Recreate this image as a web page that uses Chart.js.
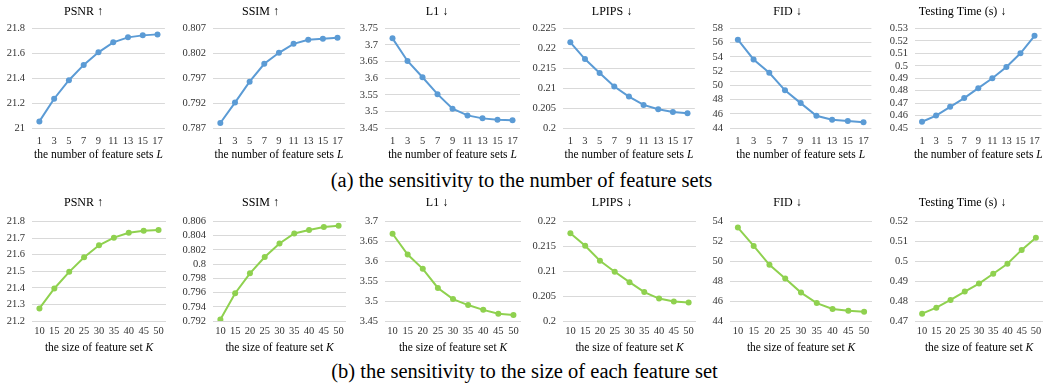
<!DOCTYPE html>
<html>
<head>
<meta charset="utf-8">
<script src="https://cdn.jsdelivr.net/npm/chart.js@4.4.1/dist/chart.umd.min.js"></script>
<style>
  body { margin: 0; background: #fff; width: 1047px; height: 383px; position: relative; overflow: hidden; font-family: "Liberation Serif", "DejaVu Serif", serif; }
  .box { position: absolute; }
  .cap { position: absolute; left: 0; width: 1047px; text-align: center; font-size: 20.5px; line-height: 24px; color: #000; }
</style>
</head>
<body>
<div class="cap" style="left:-2px; top:168px;">(a) the sensitivity to the number of feature sets</div>
<div class="cap" style="left:1px; top:359px;">(b) the sensitivity to the size of each feature set</div>
<script>
// x categories
var lValues = ['1', '3', '5', '7', '9', '11', '13', '15', '17'];
var kValues = ['10', '15', '20', '25', '30', '35', '40', '45', '50'];

// (a) number of feature sets L
var psnrL = [21.053, 21.235, 21.384, 21.507, 21.608, 21.688, 21.728, 21.744, 21.752];
var ssimL = [0.7880, 0.7921, 0.7963, 0.7999, 0.8021, 0.8039, 0.8047, 0.8049, 0.8051];
var l1L = [3.720, 3.652, 3.603, 3.552, 3.508, 3.488, 3.479, 3.475, 3.473];
var lpipsL = [0.2215, 0.2173, 0.2138, 0.2104, 0.2079, 0.2058, 0.2047, 0.2040, 0.2037];
var fidL = [56.42, 53.63, 51.77, 49.3, 47.5, 45.72, 45.16, 44.98, 44.8];
var timeL = [0.455, 0.460, 0.467, 0.474, 0.482, 0.490, 0.499, 0.510, 0.524];

// (b) size of feature set K
var psnrK = [21.276, 21.396, 21.496, 21.584, 21.656, 21.702, 21.732, 21.744, 21.748];
var ssimK = [0.7922, 0.7959, 0.7987, 0.8010, 0.8029, 0.8043, 0.8048, 0.8052, 0.8054];
var l1K = [3.669, 3.617, 3.581, 3.533, 3.505, 3.490, 3.478, 3.468, 3.465];
var lpipsK = [0.2176, 0.2151, 0.2121, 0.2099, 0.2078, 0.2058, 0.2045, 0.2039, 0.2037];
var fidK = [53.38, 51.54, 49.64, 48.26, 46.85, 45.8, 45.21, 45.02, 44.92];
var timeK = [0.4737, 0.4767, 0.4806, 0.4848, 0.4888, 0.4937, 0.4987, 0.5057, 0.5118];

var titles = ['PSNR \u2191', 'SSIM \u2191', 'L1 \u2193', 'LPIPS \u2193', 'FID \u2193', 'Testing Time (s) \u2193'];

// y ranges [min, max, step]
var rangesL = [[21, 21.8, 0.2], [0.787, 0.807, 0.005], [3.45, 3.75, 0.05], [0.2, 0.225, 0.005], [44, 58, 2], [0.45, 0.53, 0.01]];
var rangesK = [[21.2, 21.8, 0.1], [0.792, 0.806, 0.002], [3.45, 3.7, 0.05], [0.2, 0.22, 0.005], [44, 54, 2], [0.47, 0.52, 0.01]];

// layout of the six columns: canvas left, width, y axis width, right padding
var cols = [
  { left: 0, width: 170, yw: 32, pr: 3 },
  { left: 174, width: 176, yw: 39, pr: 3 },
  { left: 352, width: 173, yw: 33, pr: 3 },
  { left: 527, width: 173, yw: 36, pr: 3 },
  { left: 702, width: 174, yw: 28, pr: 3 },
  { left: 878, width: 169, yw: 37, pr: 0 }
];

var rows = [
  { top: 0, height: 168, titlePad: { top: 5, bottom: 9 }, plotTop: 28, plotBottom: 128, tickPad: 7,
    labels: lValues, series: [psnrL, ssimL, l1L, lpipsL, fidL, timeL], ranges: rangesL,
    color: '#5B9BD5', axisText: 'the number of feature sets ', axisVar: 'L' },
  { top: 193, height: 162, titlePad: { top: 3, bottom: 11 }, plotTop: 221, plotBottom: 321, tickPad: 4,
    labels: kValues, series: [psnrK, ssimK, l1K, lpipsK, fidK, timeK], ranges: rangesK,
    color: '#8FD14F', axisText: 'the size of feature set ', axisVar: 'K' }
];

var serif = '"Liberation Serif", "DejaVu Serif", serif';

// x axis title with an italic variable
var axisTitlePlugin = {
  id: 'axisTitle',
  afterDraw: function (chart, args, opts) {
    var ctx = chart.ctx;
    var a = chart.chartArea;
    ctx.save();
    ctx.fillStyle = '#000';
    ctx.textBaseline = 'middle';
    ctx.font = '11.5px ' + serif;
    var w1 = ctx.measureText(opts.text).width;
    ctx.font = 'italic 11.5px ' + serif;
    var w2 = ctx.measureText(opts.v).width;
    var x = (a.left + a.right) / 2 - (w1 + w2) / 2;
    var y = a.bottom + 27;
    ctx.font = '11.5px ' + serif;
    ctx.textAlign = 'left';
    ctx.fillText(opts.text, x, y);
    ctx.font = 'italic 11.5px ' + serif;
    ctx.fillText(opts.v, x + w1, y);
    ctx.restore();
  }
};

rows.forEach(function (row) {
  cols.forEach(function (col, i) {
    var div = document.createElement('div');
    div.className = 'box';
    div.style.left = col.left + 'px';
    div.style.top = row.top + 'px';
    var cv = document.createElement('canvas');
    cv.width = col.width;
    cv.height = row.height;
    div.appendChild(cv);
    document.body.appendChild(div);

    var r = row.ranges[i];
    var xh = row.height - (row.plotBottom - row.top);

    new Chart(cv.getContext('2d'), {
      type: 'line',
      data: {
        labels: row.labels,
        datasets: [{
          data: row.series[i],
          borderColor: row.color,
          backgroundColor: row.color,
          borderWidth: 2,
          pointRadius: 3,
          pointBorderWidth: 0,
          tension: 0,
          fill: false
        }]
      },
      options: {
        responsive: false,
        animation: false,
        layout: { padding: { left: 0, right: col.pr, top: 0, bottom: 0 } },
        plugins: {
          legend: { display: false },
          tooltip: { enabled: false },
          title: {
            display: true,
            text: titles[i],
            color: '#000',
            font: { family: serif, size: 12, weight: 'normal' },
            padding: row.titlePad
          },
          axisTitle: { text: row.axisText, v: row.axisVar }
        },
        scales: {
          x: {
            offset: true,
            grid: { display: false, drawTicks: false },
            border: { display: false },
            ticks: { color: '#333', font: { family: serif, size: 10.5 }, padding: row.tickPad, autoSkip: false, maxRotation: 0 },
            afterFit: function (s) { s.height = xh; }
          },
          y: {
            min: r[0],
            max: r[1],
            grid: { color: '#D9D9D9', lineWidth: 1, drawTicks: false },
            border: { display: false },
            ticks: {
              stepSize: r[2],
              autoSkip: false,
              padding: 7,
              color: '#333',
              font: { family: serif, size: 10.5 },
              callback: function (v) { return String(parseFloat(v.toFixed(4))); }
            },
            afterFit: function (s) { s.width = col.yw; }
          }
        }
      },
      plugins: [axisTitlePlugin]
    });
  });
});
</script>
</body>
</html>
